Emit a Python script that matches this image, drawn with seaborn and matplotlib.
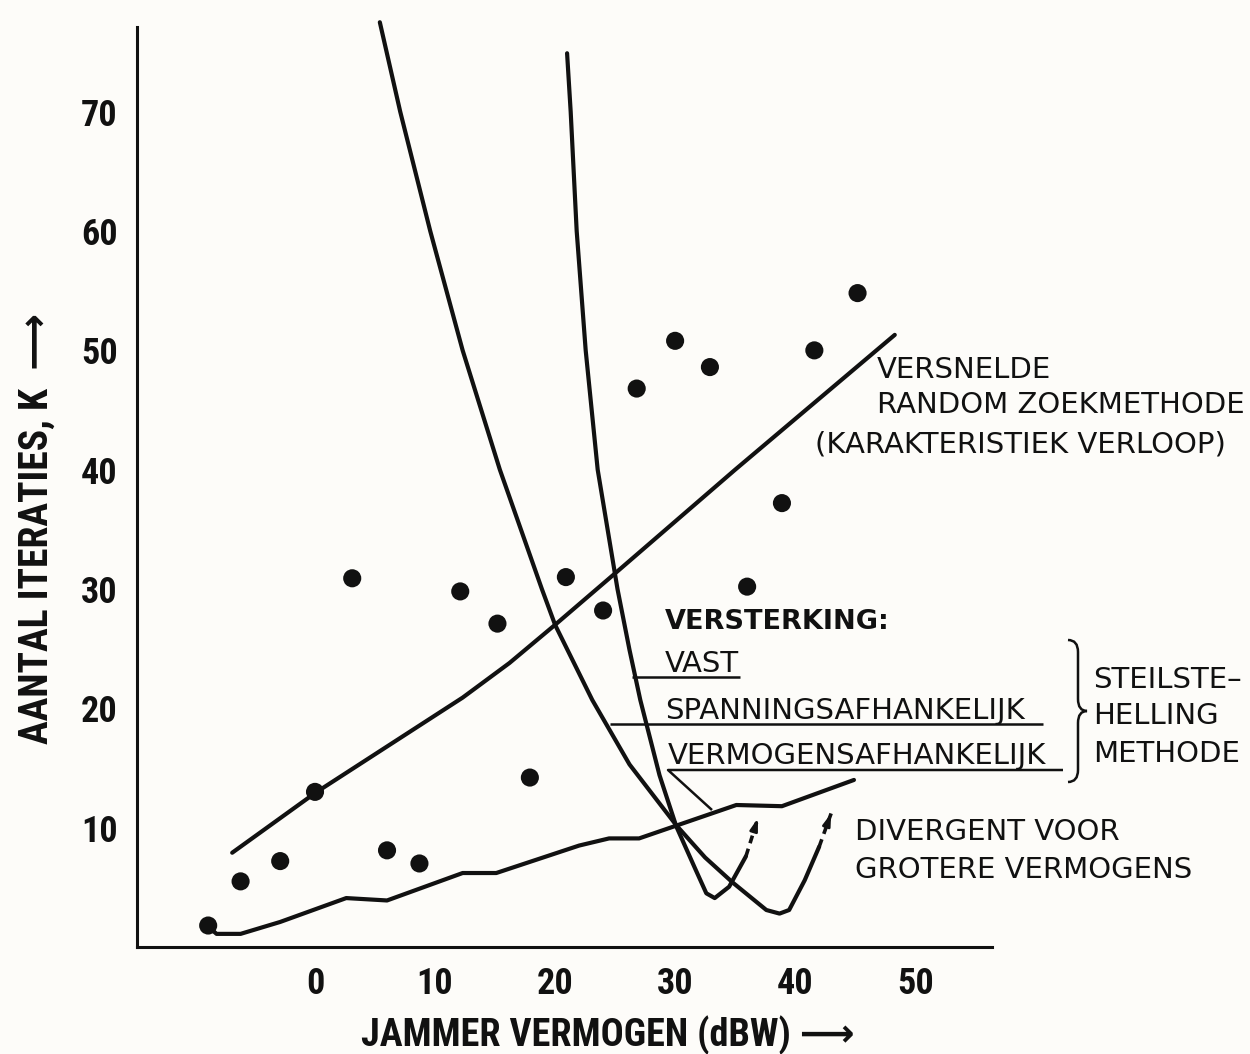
import matplotlib
matplotlib.use("Agg")
import matplotlib.pyplot as plt
from matplotlib.path import Path
from matplotlib.patches import PathPatch
from matplotlib.lines import Line2D
import seaborn as sns

# --- data -------------------------------------------------------------------
# individual runs of the accelerated random search
dots_x = [-8.9, -6.2, -2.9, 0.0, 3.1, 6.0, 8.7, 12.1, 15.2, 17.9, 20.9, 24.0,
          26.8, 30.0, 32.9, 36.0, 38.9, 41.6, 45.2]
dots_y = [1.8, 5.5, 7.2, 13.0, 30.9, 8.1, 7.0, 29.8, 27.1, 14.2, 31.0, 28.2,
          46.8, 50.8, 48.6, 30.2, 37.2, 50.0, 54.8]

# characteristic trend of the accelerated random search
trend_x = [-6.9, 0.0, 12.3, 16.2, 20.0, 25.1, 35.0, 48.3]
trend_y = [7.9, 12.9, 20.9, 23.8, 27.0, 31.4, 40.0, 51.3]

# steepest descent, fixed gain
vast_x = [21.0, 21.3, 21.8, 22.55, 23.55, 25.2, 26.2, 27.1, 28.7, 30.1, 31.7,
          32.6, 33.3, 34.5, 35.9]
vast_y = [74.9, 70.0, 60.0, 50.0, 40.0, 30.0, 24.9, 20.7, 14.4, 10.1, 6.5,
          4.5, 4.1, 5.05, 7.6]
vast_div_x = [35.9, 36.9]
vast_div_y = [7.6, 10.8]

# steepest descent, voltage-dependent gain
span_x = [5.4, 7.1, 9.6, 12.3, 15.4, 18.9, 20.0, 23.1, 26.2, 30.1, 32.5, 34.8,
          37.6, 38.7, 39.5, 40.8, 42.0]
span_y = [77.5, 70.0, 60.0, 50.0, 40.0, 30.0, 27.0, 20.7, 15.3, 10.2, 7.5, 5.4,
          3.1, 2.8, 3.1, 5.6, 8.4]
span_div_x = [42.0, 43.0]
span_div_y = [8.4, 11.2]

# steepest descent, power-dependent gain
verm_x = [-8.9, -8.2, -6.2, -2.9, 2.6, 6.0, 12.3, 15.1, 22.0, 24.5, 27.0, 35.1,
          38.9, 44.9]
verm_y = [1.7, 1.1, 1.1, 2.1, 4.1, 3.9, 6.2, 6.2, 8.5, 9.1, 9.1, 11.9, 11.8, 14.0]

x_ticks = [0, 10, 20, 30, 40, 50]
y_ticks = [10, 20, 30, 40, 50, 60, 70]

# --- style ------------------------------------------------------------------
sns.set_style("white")
BG = "#fdfcf9"
INK = "#111111"
plt.rcParams["font.family"] = ["DejaVu Sans"]
COND = ["Roboto Condensed", "Open Sans Condensed", "DejaVu Sans"]

W, H = 1250, 1054
fig = plt.figure(figsize=(W / 100, H / 100), dpi=100, facecolor=BG)


def fx(px):
    return px / W


def fy(py):
    return 1 - py / H


ax = fig.add_axes([fx(137), fy(947), (992 - 137) / W, (947 - 27) / H])
ax.set_facecolor(BG)
ax.set_xlim(-14.83, 56.4)
ax.set_ylim(0, 77.1)

LW = 3.0
line_kw = dict(color=INK, linewidth=LW, sort=False, estimator=None, ax=ax,
               legend=False)

sns.lineplot(x=trend_x, y=trend_y, **line_kw)
sns.lineplot(x=verm_x, y=verm_y, **line_kw)
sns.lineplot(x=span_x, y=span_y, **line_kw)
sns.lineplot(x=vast_x, y=vast_y, **line_kw)
for ln in ax.lines:
    ln.set_clip_on(False)
    ln.set_solid_capstyle("round")
    ln.set_solid_joinstyle("round")

# divergent continuations: dashed stroke ending in an arrow head
for dx, dy in ((vast_div_x, vast_div_y), (span_div_x, span_div_y)):
    ax.plot(dx, dy, color=INK, linewidth=2.6, linestyle=(0, (2.2, 1.6)))
    ax.annotate("", xy=(dx[1], dy[1]),
                xytext=(dx[1] - (dx[1] - dx[0]) * 0.35, dy[1] - (dy[1] - dy[0]) * 0.35),
                arrowprops=dict(arrowstyle="-|>,head_length=0.7,head_width=0.22",
                                color=INK, lw=2.0, shrinkA=0, shrinkB=0))

sns.scatterplot(x=dots_x, y=dots_y, color=INK, s=170, edgecolor="none",
                ax=ax, legend=False, zorder=5)

# --- axes -------------------------------------------------------------------
for side in ("top", "right"):
    ax.spines[side].set_visible(False)
for side in ("left", "bottom"):
    ax.spines[side].set_linewidth(2.2)
    ax.spines[side].set_color(INK)

ax.set_xticks(x_ticks)
ax.set_yticks(y_ticks)
ax.tick_params(direction="in", length=13, width=2.0, color=INK, pad=14,
               labelsize=26, labelcolor=INK)
for lab in ax.get_xticklabels() + ax.get_yticklabels():
    lab.set_family(COND)
    lab.set_fontweight("bold")

ax.set_xlabel("JAMMER VERMOGEN (dBW) ⟶", family=COND, fontweight="bold",
              fontsize=27.5, color=INK)
ax.xaxis.set_label_coords((608 - 137) / 855, (947 - 1016) / 920)
ax.set_ylabel("AANTAL ITERATIES, K  ⟶", family=COND, fontweight="bold",
              fontsize=28.5, color=INK)
ax.yaxis.set_label_coords((37 - 137) / 855, (947 - 528) / 920)
ax.yaxis.label.set_verticalalignment("center")

# --- annotations --------------------------------------------------------------
TXT = 21


def label(px, py, s, **kw):
    kw.setdefault("fontsize", TXT)
    fig.text(fx(px), fy(py), s, ha="left", va="baseline", color=INK, **kw)


label(877, 378, "VERSNELDE")
label(877, 413, "RANDOM ZOEKMETHODE")
label(815, 452, "(KARAKTERISTIEK VERLOOP)")

label(665, 629, "VERSTERKING:", fontweight="bold", fontsize=19.5)
label(665, 672, "VAST")
label(665, 719, "SPANNINGSAFHANKELIJK")
label(668, 764, "VERMOGENSAFHANKELIJK")

label(1093, 688, "STEILSTE–")
label(1093, 724, "HELLING")
label(1093, 762, "METHODE")

label(855, 840, "DIVERGENT VOOR")
label(855, 878, "GROTERE VERMOGENS")


def rule(pts, lw=1.8):
    xs = [fx(p[0]) for p in pts]
    ys = [fy(p[1]) for p in pts]
    fig.add_artist(Line2D(xs, ys, transform=fig.transFigure, color=INK,
                          linewidth=lw, solid_capstyle="butt"))


rule([(632, 677), (740, 677)])
rule([(610, 724), (1043, 724)])
rule([(712, 810), (668, 770), (1063, 770)])

# curly brace grouping the three gain variants
bx0, bx1, tip = 1068, 1078, 1087
top, mid, bot = 640, 711, 782
verts = [
    (bx0, top), (bx1, top), (bx1, top + 12),
    (bx1, mid - 12),
    (bx1, mid), (tip, mid),
    (bx1, mid), (bx1, mid + 12),
    (bx1, bot - 12),
    (bx1, bot), (bx0, bot),
]
codes = [Path.MOVETO, Path.CURVE3, Path.CURVE3, Path.LINETO,
         Path.CURVE3, Path.CURVE3, Path.CURVE3, Path.CURVE3,
         Path.LINETO, Path.CURVE3, Path.CURVE3]
verts = [(fx(a), fy(b)) for a, b in verts]
fig.add_artist(PathPatch(Path(verts, codes), transform=fig.transFigure,
                         facecolor="none", edgecolor=INK, linewidth=1.8))

fig.savefig("out.png", dpi=100, facecolor=BG)
